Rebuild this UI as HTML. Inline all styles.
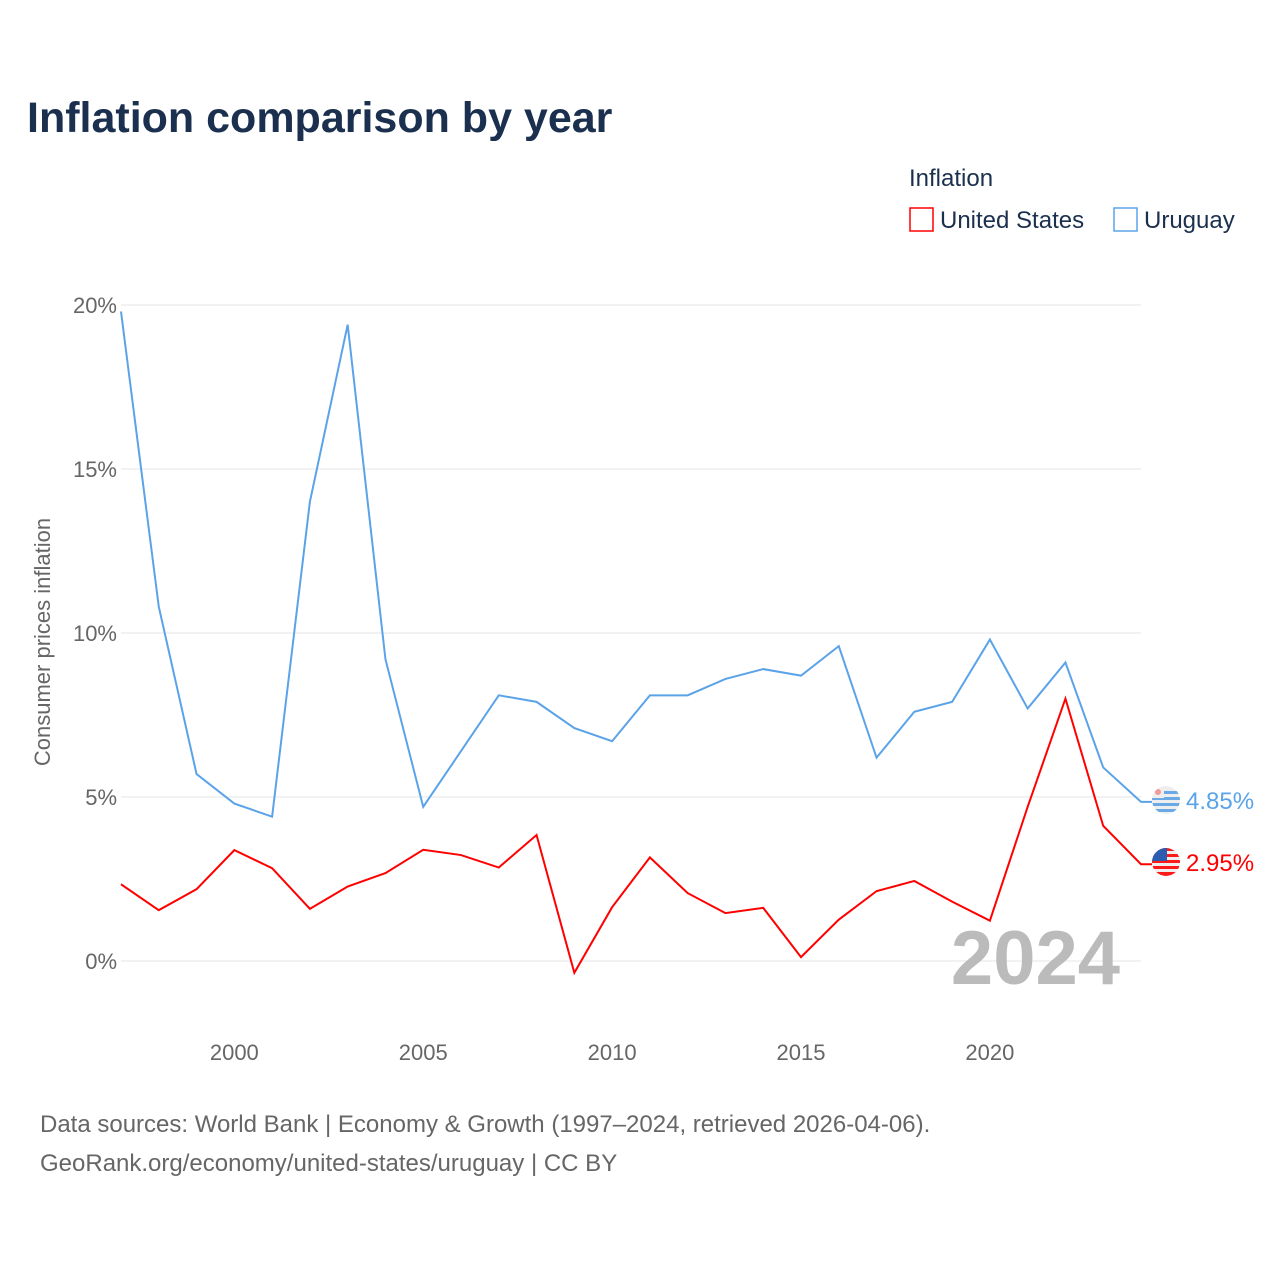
<!DOCTYPE html>
<html><head><meta charset="utf-8"><style>
body{margin:0;background:#fff;width:1280px;height:1280px;overflow:hidden;font-family:"Liberation Sans",sans-serif}
</style></head><body>
<svg width="1280" height="1280" id="chart" font-family="Liberation Sans, sans-serif">
<defs><clipPath id="cu"><circle cx="1166" cy="800" r="14"/></clipPath><clipPath id="cs"><circle cx="1166" cy="862" r="14"/></clipPath></defs>
<text x="27" y="132" font-size="43" font-weight="bold" fill="#1b2f4e">Inflation comparison by year</text>
<text x="909" y="186" font-size="24" fill="#1b2f4e">Inflation</text>
<g><rect x="910" y="208" width="23" height="23" fill="none" stroke="#ff0000" stroke-width="1.5"/><text x="940" y="228" font-size="24" fill="#1b2f4e">United States</text></g>
<g><rect x="1114" y="208" width="23" height="23" fill="none" stroke="#5ba3e8" stroke-width="1.5"/><text x="1144" y="228" font-size="24" fill="#1b2f4e">Uruguay</text></g>
<text transform="translate(50,642) rotate(-90)" text-anchor="middle" font-size="22" fill="#666">Consumer prices inflation</text>
<g id="grid"></g><g id="xt"></g>
<text x="1120" y="984" text-anchor="end" font-size="76" font-weight="bold" fill="#bbb">2024</text>
<g id="lines"></g>
<g clip-path="url(#cu)">
<rect x="1150" y="784" width="32" height="32" fill="#eee"/>
<rect x="1150" y="791" width="32" height="3" fill="#6aa9e6"/><rect x="1150" y="797" width="32" height="3" fill="#6aa9e6"/><rect x="1150" y="803" width="32" height="3" fill="#6aa9e6"/><rect x="1150" y="809" width="32" height="3" fill="#6aa9e6"/>
<rect x="1150" y="784" width="14" height="14" fill="#eee"/><circle cx="1158" cy="792" r="3" fill="#f29a9a"/></g>
<g clip-path="url(#cs)">
<rect x="1150" y="846" width="32" height="32" fill="#eee"/>
<rect x="1150" y="848" width="32" height="3" fill="#ff1a1a"/><rect x="1150" y="854" width="32" height="3" fill="#ff1a1a"/><rect x="1150" y="860" width="32" height="3" fill="#ff1a1a"/><rect x="1150" y="866" width="32" height="3" fill="#ff1a1a"/><rect x="1150" y="872" width="32" height="4" fill="#ff1a1a"/>
<rect x="1150" y="846" width="17" height="15" fill="#2d5bb0"/></g>
<text x="40" y="1132" font-size="24" fill="#666">Data sources: World Bank | Economy &amp; Growth (1997–2024, retrieved 2026-04-06).</text>
<text x="40" y="1171" font-size="24" fill="#666">GeoRank.org/economy/united-states/uruguay | CC BY</text>
</svg>
<script>
const years=[1997,1998,1999,2000,2001,2002,2003,2004,2005,2006,2007,2008,2009,2010,2011,2012,2013,2014,2015,2016,2017,2018,2019,2020,2021,2022,2023,2024];
const uruguay=[19.8,10.8,5.7,4.8,4.4,14.0,19.4,9.2,4.7,6.4,8.1,7.9,7.1,6.7,8.1,8.1,8.6,8.9,8.7,9.6,6.2,7.6,7.9,9.8,7.7,9.1,5.9,4.85];
const us=[2.34,1.55,2.19,3.38,2.83,1.59,2.27,2.68,3.39,3.23,2.85,3.84,-0.36,1.64,3.16,2.07,1.46,1.62,0.12,1.26,2.13,2.44,1.81,1.23,4.70,8.0,4.12,2.95];
const yTicks=[0,5,10,15,20];
const xTicks=[2000,2005,2010,2015,2020];
const X=y=>121+(y-1997)*(1141-121)/27, Y=v=>961-v*32.8;
const NS="http://www.w3.org/2000/svg";
function mk(t,a,p){const e=document.createElementNS(NS,t);for(const k in a)e.setAttribute(k,a[k]);p.appendChild(e);return e;}
const g=document.getElementById('grid'),xt=document.getElementById('xt'),L=document.getElementById('lines');
yTicks.forEach(v=>{const l=mk('line',{x1:121,x2:1141,y1:Y(v),y2:Y(v),stroke:'#e6e6e6'},g);


const t=mk('text',{x:117,y:Y(v)+8,'text-anchor':'end','font-size':22,fill:'#666'},g);t.textContent=v+'%';

});
xTicks.forEach(v=>{const t=mk('text',{x:X(v),y:1060,'text-anchor':'middle','font-size':22,fill:'#666'},xt);t.textContent=v;

});
function series(d,c,name,lab,fy){
const p=mk('polyline',{points:d.map((v,i)=>X(years[i])+','+Y(v)).join(' ')+' 1152,'+Y(d[d.length-1]),fill:'none',stroke:c,'stroke-width':2},L);


const t=mk('text',{x:1186,y:fy+9,'font-size':24,fill:c},L);t.textContent=lab;

}
series(uruguay,'#5ba3e8','uruguay',uruguay[uruguay.length-1].toFixed(2)+'%',800);
series(us,'#ff0000','united-states',us[us.length-1].toFixed(2)+'%',862);
</script>
</body></html>
